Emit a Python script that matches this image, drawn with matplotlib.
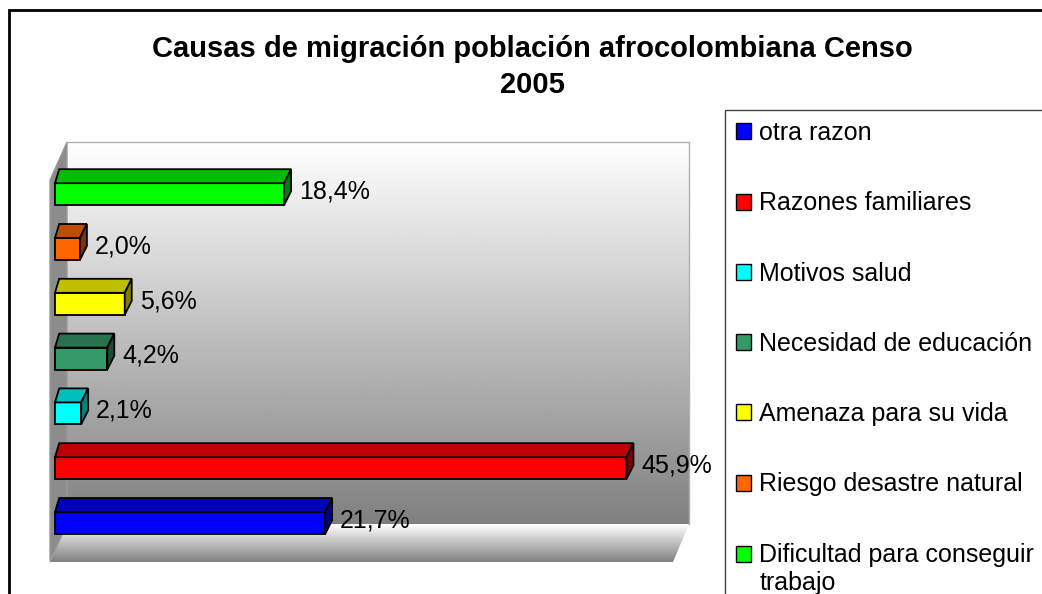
#!/usr/bin/env python3
"""Causas de migración población afrocolombiana, Censo 2005 (barras 3D estilo Excel)."""

import matplotlib

matplotlib.use("Agg")
import matplotlib.pyplot as plt
import numpy as np
from matplotlib.legend_handler import HandlerPatch
from matplotlib.patches import Patch, Polygon, Rectangle

plt.rcParams["font.family"] = ["Liberation Sans", "DejaVu Sans"]

categories = [
    "otra razon",
    "Razones familiares",
    "Motivos salud",
    "Necesidad de educación",
    "Amenaza para su vida",
    "Riesgo desastre natural",
    "Dificultad para conseguir\ntrabajo",
]
values = [21.7, 45.9, 2.1, 4.2, 5.6, 2.0, 18.4]
value_labels = ["21,7%", "45,9%", "2,1%", "4,2%", "5,6%", "2,0%", "18,4%"]
colors = ["#0000ff", "#ff0000", "#00ffff", "#339966", "#ffff00", "#ff6600", "#00ff00"]

W, H = 1042, 594


def shade(color, k):
    rgb = np.array(matplotlib.colors.to_rgb(color))
    return tuple(rgb * k)


def first_line_patch(legend, orig_handle, xdescent, ydescent, width, height, fontsize):
    # keep the square next to the first line of a two-line label
    return Rectangle((-xdescent, -ydescent + 0.6 * fontsize), width, height)


fig = plt.figure(figsize=(W / 100, H / 100), dpi=100)

# background layer in pixel coordinates (frame, walls, floor)
bg = fig.add_axes([0, 0, 1, 1])
bg.set_xlim(0, W)
bg.set_ylim(H, 0)
bg.axis("off")

bg.add_patch(Rectangle((9, 10), W + 20, H + 20, facecolor="white",
                       edgecolor="black", linewidth=2))

grad = np.linspace(1.0, 0.5, 256).reshape(-1, 1)
bg.imshow(grad, cmap="gray", vmin=0, vmax=1, aspect="auto",
          extent=(67, 689, 524, 142), zorder=1)
bg.plot([67, 689, 689], [142, 142, 524], color="#b0b0b0", lw=1, zorder=2)

floor = Polygon([(67, 524), (689, 524), (673, 562), (50, 562)], closed=True,
                facecolor="none", edgecolor="none")
bg.add_patch(floor)
fl = bg.imshow(np.linspace(1.0, 0.5, 256).reshape(-1, 1), cmap="gray", vmin=0, vmax=1,
               aspect="auto", extent=(50, 689, 562, 524), zorder=1)
fl.set_clip_path(floor)

bg.add_patch(Polygon([(67, 142), (67, 524), (50, 562), (50, 180)], closed=True,
                     facecolor="#8c8c8c", edgecolor="#9a9a9a", lw=1, zorder=2))

# data axes: 0% at x=55 px, 12.45 px per %, rows 54.8 px apart
px_per_pct = 12.45
px_per_row = 54.8
ax = fig.add_axes([40 / W, (H - 575) / H, 660 / W, 445 / H])
ax.set_xlim((40 - 55) / px_per_pct, (700 - 55) / px_per_pct)
ax.set_ylim((523 - 575) / px_per_row, (523 - 130) / px_per_row)
ax.axis("off")
ax.patch.set_alpha(0)

pos = np.arange(len(values))
bar_h = 22 / px_per_row
dx = 7 / px_per_pct
dy = 14 / px_per_row

ax.barh(pos, values, height=bar_h, color=colors, edgecolor="black", linewidth=1.3, zorder=3)
for y, v, c in zip(pos, values, colors):
    top = y + bar_h / 2
    bot = y - bar_h / 2
    ax.add_patch(Polygon([(0, top), (v, top), (v + dx, top + dy), (dx * 0.6, top + dy)],
                         closed=True, facecolor=shade(c, 0.75), edgecolor="black",
                         linewidth=1.3, zorder=3))
    ax.add_patch(Polygon([(v, bot), (v + dx, bot + dy), (v + dx, top + dy), (v, top)],
                         closed=True, facecolor=shade(c, 0.5), edgecolor="black",
                         linewidth=1.3, zorder=3))

for y, v, lab in zip(pos, values, value_labels):
    ax.text(v + 1.2, y + 0.05, lab, ha="left", va="center", fontsize=18,
            color="black", zorder=4)

fig.text(532 / W, 1 - 67 / H, "Causas de migración población afrocolombiana Censo\n2005",
         ha="center", va="center", fontsize=21, fontweight="bold", linespacing=1.35)

handles = [Patch(facecolor=c, edgecolor="black", linewidth=1) for c in colors]
leg = fig.legend(handles, categories, loc="upper left",
                 bbox_to_anchor=(725 / W, 1 - 110 / H), bbox_transform=fig.transFigure,
                 fontsize=18, frameon=True, fancybox=False, framealpha=1,
                 edgecolor="#404040", borderpad=0.45, handlelength=0.6, handleheight=0.6,
                 handletextpad=0.32, labelspacing=1.85, borderaxespad=0,
                 handler_map={handles[-1]: HandlerPatch(patch_func=first_line_patch)})
leg.get_frame().set_linewidth(1)

fig.savefig("out.png", dpi=100)
